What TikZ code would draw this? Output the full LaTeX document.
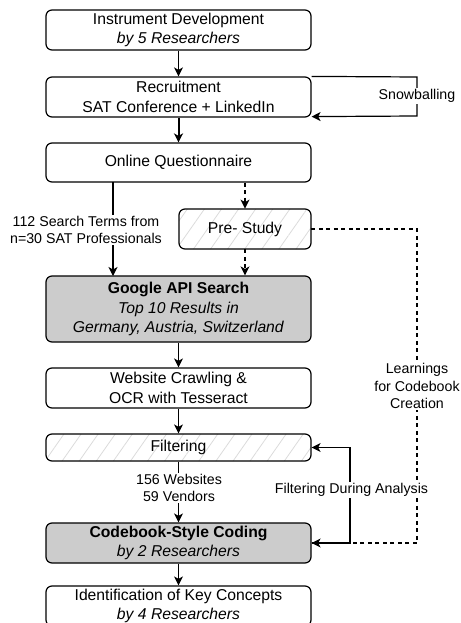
\documentclass[tikz,border=0pt]{standalone}
\usepackage{fontspec}
\setmainfont{Liberation Sans}
\usetikzlibrary{arrows.meta,patterns.meta,calc}

\tikzset{
  stepbox/.style={draw, line width=1.2pt, rounded corners=6pt, minimum width=265pt,
    align=center, inner sep=0pt, font=\fontsize{15.7}{19.7}\selectfont},
  greybox/.style={stepbox, fill=gray!40},
  hatchbox/.style={stepbox, pattern={Lines[angle=55,distance=14pt,line width=0.8pt]},
    pattern color=gray!28},
  flow/.style={line width=1.2pt, -{Stealth[length=9pt,width=9pt,inset=2.5pt]}},
  flowdash/.style={flow, dash pattern=on 4pt off 3.5pt},
  lbl/.style={fill=white, align=center, inner sep=1pt,
    font=\fontsize{14.2}{17.5}\selectfont},
}

\begin{document}
\begin{tikzpicture}[x=1pt,y=-1pt]
\useasboundingbox (0,0) rectangle (460,623);

% main sequence of steps
\node[stepbox, minimum height=40pt] (dev) at (178.5,30) {Instrument Development\\\textit{by 5 Researchers}};
\node[stepbox, minimum height=40pt] (rec) at (178.5,97) {Recruitment\\SAT Conference + LinkedIn};
\node[stepbox, minimum height=39pt] (quest) at (178.5,162.5) {Online Questionnaire};
\node[hatchbox, minimum width=132pt, minimum height=40pt] (pre) at (245,229) {Pre- Study};
\node[greybox, minimum height=66pt] (google) at (178.5,309) {\textbf{Google API Search}\\\textit{Top 10 Results in}\\\textit{Germany, Austria, Switzerland}};
\node[stepbox, minimum height=40pt] (crawl) at (178.5,388) {Website Crawling \&\\OCR with Tesseract};
\node[hatchbox, minimum height=27pt] (filt) at (178.5,447.5) {Filtering};
\node[greybox, minimum height=40pt] (code) at (178.5,543) {\textbf{Codebook-Style Coding}\\\textit{by 2 Researchers}};
\node[stepbox, minimum height=40pt] (ident) at (178.5,606) {Identification of Key Concepts\\\textit{by 4 Researchers}};

% helper points for the routed connectors
\coordinate (snowA) at (417,77);
\coordinate (snowB) at (417,116);
\coordinate (learnA) at (417,229);
\coordinate (learnB) at (417,543);
\coordinate (filtA) at (350,543);
\coordinate (filtB) at (350,447.5);
\coordinate (qL) at (113,182);
\coordinate (gL) at (113,276);

% straight connectors
\draw[flow] (dev) -- (rec);
\draw[flow, line width=2pt] (rec) -- (quest);
\draw[flow] (qL) -- (gL);
\draw[flowdash] (quest.south -| pre) -- (pre);
\draw[flowdash] (pre) -- (pre |- google.north);
\draw[flow] (google) -- (crawl);
\draw[flow] (crawl) -- (filt);
\draw[flow] (filt) -- (code);
\draw[flow] (code) -- (ident);

% snowballing loop
\draw[flow] (rec.north east) -- (snowA) -- (snowB) -- ($(rec.south east)+(0,-1)$);
\node[lbl] at (417,96) {Snowballing};

% learnings from the pre-study
\draw[flowdash] (pre.east) -- (learnA) -- (learnB) -- (code.east);
\node[lbl] at (417,386) {Learnings\\for Codebook\\Creation};

% filtering feedback during analysis
\draw[flow] (code.east) -- (filtA) -- (filtB) -- (filt.east);
\node[lbl] at (351.5,490) {Filtering During Analysis};

% edge labels
\node[lbl] at (86,230) {112 Search Terms from\\n=30 SAT Professionals};
\node[lbl] at (179,488) {156 Websites\\59 Vendors};
\end{tikzpicture}
\end{document}
